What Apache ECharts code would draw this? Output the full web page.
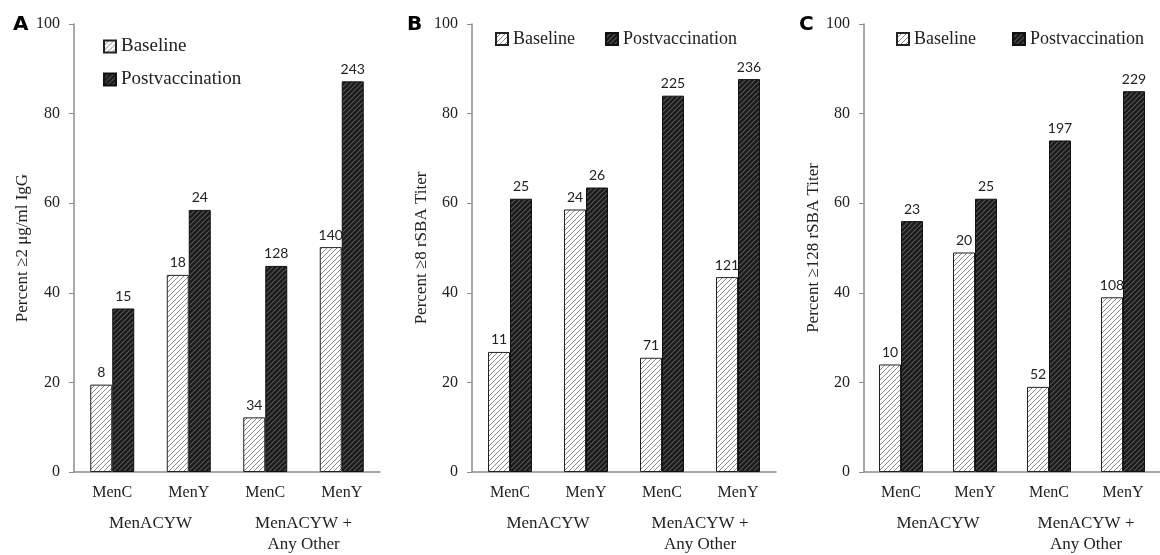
<!DOCTYPE html>
<html><head><meta charset="utf-8">
<script src="https://cdn.jsdelivr.net/npm/echarts@6/dist/echarts.min.js"></script>
<style>html,body{margin:0;padding:0;background:#fff}#c{width:1160px;height:555px}</style>
</head><body><div id="c"></div>
<script>
const categories = ['MenC', 'MenY', 'MenC', 'MenY'];
const groupLabels = ['MenACYW', 'MenACYW +\nAny Other'];
const yTicks = [0, 20, 40, 60, 80, 100];
const panelLetters = ['A', 'B', 'C'];
const yTitles = ['Percent \u22652 \u03bcg/ml IgG', 'Percent \u22658 rSBA Titer', 'Percent \u2265128 rSBA Titer'];
const seriesNames = ['Baseline', 'Postvaccination'];
// Panel A
const aBaseline = [19.5, 44, 12.2, 50.2];
const aPost = [36.5, 58.5, 46, 87.2];
const aBaselineN = [8, 18, 34, 140];
const aPostN = [15, 24, 128, 243];
// Panel B
const bBaseline = [26.8, 58.6, 25.5, 43.5];
const bPost = [61, 63.5, 84, 87.7];
const bBaselineN = [11, 24, 71, 121];
const bPostN = [25, 26, 225, 236];
// Panel C
const cBaseline = [24, 49, 19, 39];
const cPost = [56, 61, 74, 85];
const cBaselineN = [10, 20, 52, 108];
const cPostN = [23, 25, 197, 229];

function makePattern(bg, fg, lw) {
  const s = 5;
  const cv = document.createElement('canvas');
  cv.width = s; cv.height = s;
  const g = cv.getContext('2d');
  g.fillStyle = bg; g.fillRect(0, 0, s, s);
  g.strokeStyle = fg; g.lineWidth = lw;
  g.beginPath();
  g.moveTo(-1, s + 1); g.lineTo(s + 1, -1);
  g.moveTo(-1, 1); g.lineTo(1, -1);
  g.moveTo(s - 1, s + 1); g.lineTo(s + 1, s - 1);
  g.stroke();
  return { image: cv, repeat: 'repeat' };
}
const basePat = makePattern('#ffffff', '#8a8a8a', 1.0);
const postPat = makePattern('#1a1a1a', '#575757', 1.1);

const panels = [
  { base: aBaseline, post: aPost, bn: aBaselineN, pn: aPostN, left: 74, width: 306, gap: 43 },
  { base: bBaseline, post: bPost, bn: bBaselineN, pn: bPostN, left: 472, width: 304, gap: 37 },
  { base: cBaseline, post: cPost, bn: cBaselineN, pn: cPostN, left: 864, width: 300, gap: 38 }
];

const serif = 'Liberation Serif';
const grids = [], xAxes = [], yAxes = [], series = [], legends = [], graphics = [];
panels.forEach((p, i) => {
  grids.push({ left: p.left, width: p.width, top: 24, bottom: 79 });
  xAxes.push({
    type: 'category', gridIndex: i, data: categories,
    axisLine: { lineStyle: { color: '#8c8c8c', width: 1.5 } },
    axisTick: { show: false },
    axisLabel: { fontFamily: serif, fontSize: 16, color: '#222', margin: 13 }
  });
  xAxes.push({
    type: 'category', gridIndex: i, data: groupLabels, position: 'bottom',
    axisLine: { show: false }, axisTick: { show: false },
    axisLabel: { fontFamily: serif, fontSize: 17, color: '#222', margin: 41, lineHeight: 21, verticalAlign: 'top' }
  });
  yAxes.push({
    type: 'value', gridIndex: i, min: 0, max: 100, interval: 20,
    splitLine: { show: false },
    axisLine: { show: true, lineStyle: { color: '#8c8c8c', width: 1.5 } },
    axisTick: { show: true, length: 5, lineStyle: { color: '#8c8c8c' } },
    axisLabel: { fontFamily: serif, fontSize: 16, color: '#222', margin: 14,
      formatter: v => yTicks.includes(v) ? String(v) : '' },
    name: yTitles[i], nameLocation: 'middle', nameRotate: 90, nameGap: p.gap,
    nameTextStyle: { fontFamily: serif, fontSize: 17, color: '#222' }
  });
  const lbl = arr => ({ show: true, position: 'top', distance: 5, fontFamily: 'Lato', fontSize: 14, color: '#222',
    formatter: prm => String(arr[prm.dataIndex]) });
  series.push({
    name: seriesNames[0], type: 'bar', xAxisIndex: i * 2, yAxisIndex: i, data: p.base,
    barWidth: 22, barGap: '0%',
    itemStyle: { color: basePat, borderColor: '#222', borderWidth: 1 },
    label: lbl(p.bn)
  });
  series.push({
    name: seriesNames[1], type: 'bar', xAxisIndex: i * 2, yAxisIndex: i, data: p.post,
    barWidth: 22, barGap: '0%',
    itemStyle: { color: postPat, borderColor: '#111', borderWidth: 1 },
    label: lbl(p.pn)
  });
  graphics.push({
    type: 'text', left: [13, 407, 799][i], top: 15,
    style: { text: panelLetters[i], font: '900 20px "DejaVu Sans"', fill: '#000' }
  });
});

const legendTextA = { fontFamily: serif, fontSize: 19, color: '#222' };
const legendText = { fontFamily: serif, fontSize: 18, color: '#222' };
legends.push({ orient: 'vertical', left: 98, top: 32, itemWidth: 12, itemHeight: 12, itemGap: 14,
  data: seriesNames, textStyle: legendTextA, icon: 'rect', selectedMode: false });
legends.push({ orient: 'horizontal', left: 490, top: 25, itemWidth: 12, itemHeight: 12, itemGap: 30,
  data: seriesNames, textStyle: legendText, icon: 'rect', selectedMode: false });
legends.push({ orient: 'horizontal', left: 891, top: 25, itemWidth: 12, itemHeight: 12, itemGap: 36,
  data: seriesNames, textStyle: legendText, icon: 'rect', selectedMode: false });

const chart = echarts.init(document.getElementById('c'), null, { renderer: 'canvas' });
chart.setOption({
  animation: false,
  backgroundColor: '#fff',
  grid: grids, xAxis: xAxes, yAxis: yAxes, series: series, legend: legends, graphic: graphics
});
</script></body></html>
